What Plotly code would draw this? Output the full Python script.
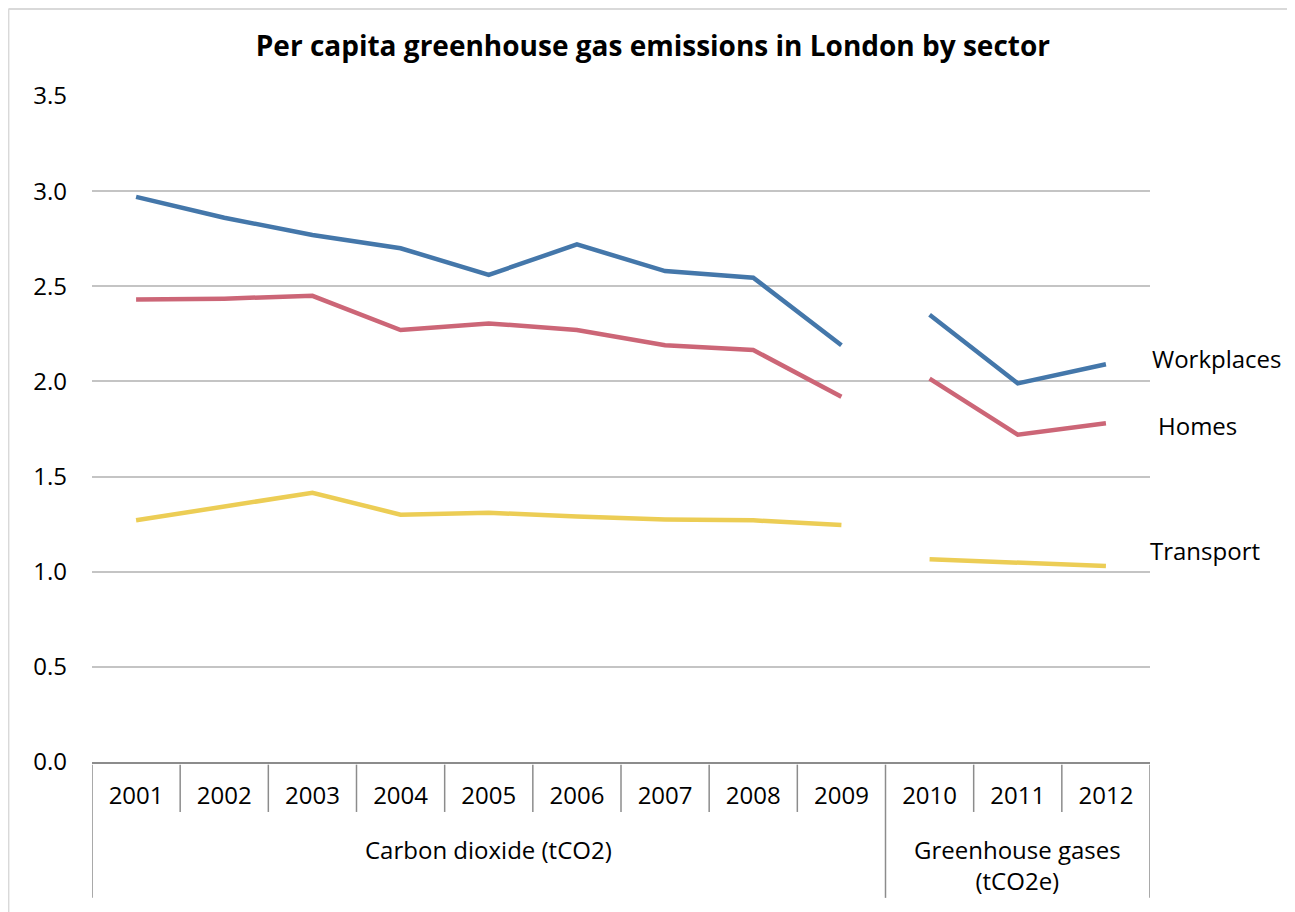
import plotly.graph_objects as go

# data
years = ['2001', '2002', '2003', '2004', '2005', '2006',
         '2007', '2008', '2009', '2010', '2011', '2012']
groups = ['Carbon dioxide (tCO2)'] * 9 + ['Greenhouse gases<br>(tCO2e)'] * 3

workplaces = [2.97, 2.86, 2.77, 2.70, 2.56, 2.72, 2.58, 2.545, 2.19, 2.35, 1.99, 2.09]
homes = [2.43, 2.435, 2.45, 2.27, 2.305, 2.27, 2.19, 2.165, 1.92, 2.015, 1.72, 1.78]
transport = [1.27, 1.34, 1.415, 1.30, 1.31, 1.29, 1.275, 1.27, 1.245, 1.065, 1.045, 1.03]

series = [
    ('Workplaces', workplaces, '#4477aa', 0, 6),
    ('Homes', homes, '#cc6677', 6, -2),
    ('Transport', transport, '#eccd55', -2, 16),
]

FONT = 'Open Sans'
GRID = '#c4c4c4'
AXIS = '#8c8c8c'

fig = go.Figure()

# the chart breaks between the CO2 years and the GHG years
split = groups.index(groups[-1])
for name, vals, col, _, _ in series:
    for a, b in [(0, split), (split, len(years))]:
        fig.add_trace(go.Scatter(x=years[a:b], y=vals[a:b], mode='lines', name=name,
                                 line=dict(color=col, width=4.5), showlegend=False,
                                 hoverinfo='x+y+name'))

# labels at the end of each line
last = len(years) - 1
for name, vals, col, xs, ys in series:
    fig.add_annotation(x=last, y=vals[-1], text=name, showarrow=False,
                       xanchor='left', xshift=44 + xs, yshift=ys,
                       font=dict(family=FONT, size=24, color='black'))

# divider lines under the axis
for i in range(len(years) + 1):
    pos = i - 0.5
    edge = i == 0 or i == len(years) or groups[i] != groups[i - 1]
    fig.add_shape(type='line', xref='x', yref='paper', x0=pos, x1=pos,
                  y0=-0.004, y1=-0.204 if edge else -0.075,
                  line=dict(color=AXIS, width=1.5))

# group labels
seen = []
for g in groups:
    if g not in seen:
        seen.append(g)
for g in seen:
    idx = [i for i, v in enumerate(groups) if v == g]
    mid = (idx[0] + idx[-1]) / 2
    fig.add_annotation(x=mid, y=-0.104, xref='x', yref='paper', text=g,
                       showarrow=False, yanchor='top',
                       font=dict(family=FONT, size=24, color='black'))

# frame of the screenshot
fig.add_shape(type='line', xref='paper', yref='paper', x0=-0.079, x1=1.15,
              y0=1.1306, y1=1.1306, line=dict(color='#d9d9d9', width=2))
fig.add_shape(type='line', xref='paper', yref='paper', x0=-0.079, x1=-0.079,
              y0=1.1306, y1=-0.24, line=dict(color='#d9d9d9', width=2))

fig.update_layout(
    width=1295, height=912,
    margin=dict(l=84, r=153, t=88, b=158),
    paper_bgcolor='white', plot_bgcolor='white',
    font=dict(family=FONT, size=24, color='black'),
    title=dict(text='<b>Per capita greenhouse gas emissions in London by sector</b>',
               x=0.498, xanchor='center', y=0.958, yanchor='middle',
               font=dict(family=FONT, size=28, color='black')),
    xaxis=dict(type='category', categoryorder='array', categoryarray=years,
               range=[-0.5, len(years) - 0.5], showgrid=False,
               showline=True, linecolor=AXIS, linewidth=2,
               ticks='', ticklabelstandoff=11, tickfont=dict(size=24)),
    yaxis=dict(range=[0, 3.5], dtick=0.5, tickformat='.1f', showgrid=True,
               gridcolor=GRID, gridwidth=1.5, zeroline=False, showline=False,
               ticks='', ticklabelstandoff=24, tickfont=dict(size=24)),
)

fig.write_html('out.html')
